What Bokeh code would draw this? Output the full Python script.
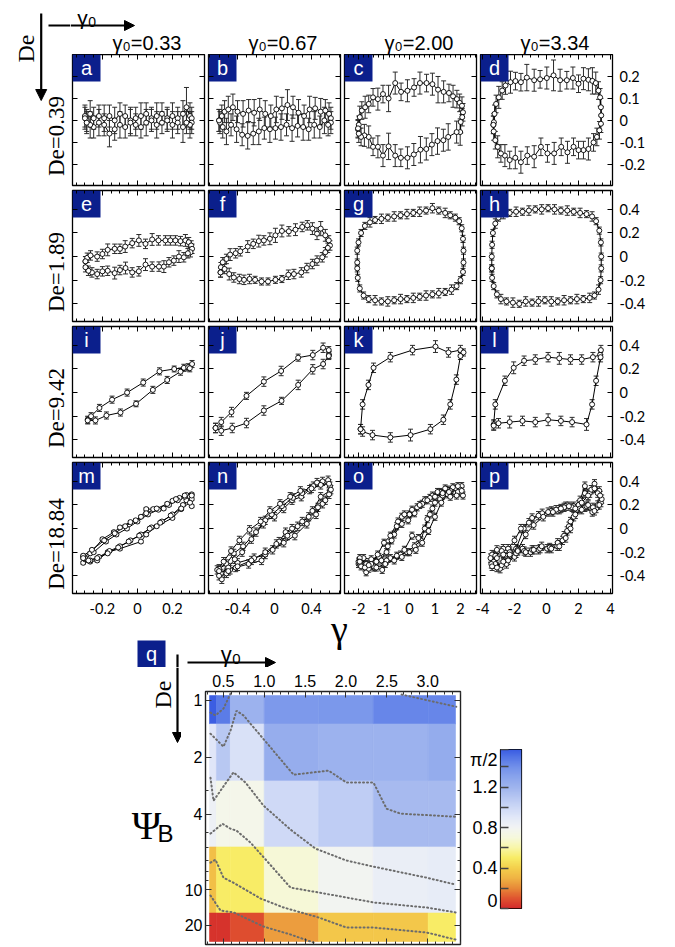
import numpy as np
from bokeh.plotting import figure
from bokeh.layouts import column, row
from bokeh.models import (Range1d, LinearAxis, LogAxis, FixedTicker, Label, Arrow,
                          NormalHead, LinearColorMapper, ColumnDataSource, Spacer)
from bokeh.embed import file_html
from bokeh.resources import INLINE
from bokeh.transform import linear_cmap

# ======================= DATA =======================
col_gamma0 = ["0.33", "0.67", "2.00", "3.34"]          # column titles: gamma_0 = ...
row_titles = ["De=0.39", "De=1.89", "De=9.42", "De=18.84"]
letters = list("abcdefghijklmnop")

x_ticks = [[-0.2, 0, 0.2], [-0.4, 0, 0.4], [-2, -1, 0, 1, 2], [-4, -2, 0, 2, 4]]
x_tick_labels = [["-0.2", "0", "0.2"], ["-0.4", "0", "0.4"],
                 ["-2", "-1", "0", "1", "2"], ["-4", "-2", "0", "2", "4"]]
y_ticks = [[-0.2, -0.1, 0, 0.1, 0.2], [-0.4, -0.2, 0, 0.2, 0.4],
           [-0.4, -0.2, 0, 0.2, 0.4], [-0.4, -0.2, 0, 0.2, 0.4]]
y_tick_labels = [["-0.2", "-0.1", "0", "0.1", "0.2"], ["-0.4", "-0.2", "0", "0.2", "0.4"],
                 ["-0.4", "-0.2", "0", "0.2", "0.4"], ["-0.4", "-0.2", "0", "0.2", "0.4"]]

# (strain, stress, error) read from the loops
PA = [(-0.30,0.02,0.05),(-0.29,0.00,0.05),(-0.27,0.03,0.06),(-0.25,0.01,0.05),(-0.22,0.02,0.05),(-0.19,0.01,0.06),
      (-0.16,0.02,0.05),(-0.13,0.00,0.06),(-0.10,0.03,0.05),(-0.07,0.02,0.05),(-0.04,0.00,0.06),(-0.01,0.01,0.05),
      (0.02,0.02,0.06),(0.05,0.03,0.05),(0.08,0.01,0.05),(0.11,0.02,0.06),(0.14,0.03,0.05),(0.17,0.01,0.05),
      (0.20,0.02,0.06),(0.23,0.01,0.05),(0.26,0.03,0.06),(0.28,0.06,0.09),(0.30,0.02,0.06),(0.31,0.01,0.05),
      (0.31,-0.01,0.05),(0.30,-0.02,0.06),(0.28,-0.01,0.05),(0.26,-0.03,0.07),(0.23,-0.01,0.05),(0.20,-0.02,0.06),
      (0.17,0.00,0.05),(0.14,-0.01,0.05),(0.11,-0.02,0.06),(0.08,0.00,0.05),(0.05,-0.01,0.06),(0.02,-0.03,0.05),
      (-0.01,-0.02,0.05),(-0.04,-0.01,0.06),(-0.07,-0.03,0.05),(-0.10,-0.02,0.06),(-0.13,-0.04,0.05),(-0.16,-0.06,0.06),
      (-0.19,-0.02,0.05),(-0.22,-0.01,0.06),(-0.25,-0.03,0.05),(-0.27,-0.02,0.06),(-0.29,-0.01,0.05),(-0.30,0.01,0.05)]
PB = [(-0.60,0.00,0.05),(-0.57,0.02,0.05),(-0.54,0.04,0.05),(-0.50,0.05,0.06),(-0.45,0.06,0.06),(-0.40,0.04,0.05),
      (-0.34,0.03,0.06),(-0.28,0.045,0.05),(-0.22,0.035,0.06),(-0.16,0.05,0.05),(-0.10,0.03,0.06),(-0.04,0.02,0.05),
      (0.02,0.05,0.06),(0.08,0.055,0.05),(0.14,0.07,0.07),(0.20,0.06,0.05),(0.26,0.035,0.06),(0.32,0.02,0.05),
      (0.38,0.05,0.06),(0.44,0.055,0.05),(0.50,0.04,0.06),(0.55,0.045,0.05),(0.59,0.03,0.05),(0.61,0.01,0.05),
      (0.61,-0.01,0.05),(0.58,-0.02,0.05),(0.54,0.00,0.06),(0.49,-0.03,0.05),(0.43,-0.02,0.06),(0.37,-0.04,0.05),
      (0.31,-0.03,0.06),(0.25,-0.025,0.05),(0.19,-0.035,0.06),(0.13,-0.02,0.05),(0.07,-0.03,0.06),(0.01,-0.035,0.05),
      (-0.05,-0.04,0.06),(-0.11,-0.035,0.05),(-0.17,-0.05,0.06),(-0.23,-0.06,0.05),(-0.29,-0.07,0.06),(-0.35,-0.065,0.05),
      (-0.41,-0.04,0.06),(-0.47,-0.02,0.05),(-0.52,-0.05,0.06),(-0.56,-0.03,0.05),(-0.59,-0.01,0.05),(-0.60,0.00,0.05)]
PC = [(-2.02,-0.04,0.04),(-1.99,-0.02,0.04),(-1.95,0.015,0.05),(-1.87,0.045,0.04),(-1.74,0.06,0.05),(-1.60,0.075,0.04),
      (-1.43,0.105,0.04),(-1.24,0.097,0.05),(-1.04,0.12,0.04),(-0.82,0.10,0.06),(-0.56,0.17,0.05),(-0.33,0.13,0.04),
      (-0.08,0.135,0.05),(0.18,0.15,0.04),(0.41,0.17,0.05),(0.67,0.17,0.04),(0.90,0.165,0.05),(1.12,0.14,0.06),
      (1.34,0.13,0.05),(1.55,0.125,0.04),(1.71,0.11,0.05),(1.86,0.097,0.04),(1.97,0.08,0.04),(2.06,0.067,0.04),
      (2.10,0.037,0.04),(2.07,0.015,0.04),(2.01,-0.007,0.05),(1.99,-0.053,0.06),(1.85,-0.053,0.05),(1.52,-0.075,0.06),
      (1.33,-0.09,0.05),(1.10,-0.094,0.06),(0.88,-0.11,0.05),(0.66,-0.13,0.05),(0.43,-0.133,0.06),(0.17,-0.155,0.05),
      (-0.08,-0.17,0.05),(-0.34,-0.17,0.04),(-0.56,-0.16,0.05),(-0.82,-0.118,0.06),(-1.04,-0.16,0.05),(-1.24,-0.12,0.05),
      (-1.43,-0.12,0.04),(-1.60,-0.075,0.05),(-1.77,-0.068,0.05),(-1.90,-0.075,0.04),(-1.99,-0.06,0.04),(-2.02,-0.036,0.04)]
PD = [(-3.32,-0.02,0.04),(-3.29,-0.008,0.04),(-3.25,0.03,0.04),(-3.15,0.075,0.04),(-2.98,0.105,0.05),(-2.77,0.136,0.04),
      (-2.56,0.159,0.04),(-2.25,0.174,0.05),(-1.94,0.179,0.04),(-1.60,0.174,0.04),(-1.23,0.195,0.06),(-0.77,0.183,0.05),
      (-0.40,0.187,0.04),(0.02,0.193,0.05),(0.44,0.205,0.07),(0.85,0.183,0.05),(1.27,0.183,0.04),(1.65,0.193,0.05),
      (2.00,0.167,0.04),(2.31,0.19,0.05),(2.62,0.185,0.05),(2.87,0.18,0.06),(3.08,0.17,0.05),(3.25,0.136,0.04),
      (3.35,0.105,0.04),(3.40,0.06,0.04),(3.42,0.023,0.04),(3.40,-0.015,0.04),(3.31,-0.045,0.04),(3.15,-0.075,0.04),
      (2.94,-0.10,0.04),(2.62,-0.13,0.05),(2.31,-0.135,0.04),(2.00,-0.135,0.04),(1.69,-0.12,0.04),(1.31,-0.145,0.05),
      (0.92,-0.12,0.04),(0.48,-0.15,0.05),(0.06,-0.15,0.04),(-0.35,-0.12,0.04),(-0.77,-0.165,0.05),(-1.20,-0.16,0.04),
      (-1.60,-0.19,0.05),(-1.95,-0.17,0.05),(-2.30,-0.18,0.04),(-2.60,-0.16,0.05),(-2.85,-0.15,0.04),(-3.05,-0.12,0.05),
      (-3.20,-0.09,0.04),(-3.30,-0.05,0.04),(-3.32,-0.02,0.04)]
PE = [(-0.297,-0.04,0.04),(-0.287,-0.01,0.04),(-0.268,0.01,0.04),(-0.23,0.0,0.04),(-0.20,0.022,0.04),(-0.17,0.057,0.05),
      (-0.13,0.066,0.04),(-0.10,0.066,0.04),(-0.07,0.085,0.05),(-0.03,0.114,0.04),(0.008,0.137,0.05),(0.046,0.108,0.04),
      (0.084,0.145,0.05),(0.12,0.137,0.04),(0.16,0.137,0.04),(0.188,0.137,0.04),(0.217,0.137,0.04),(0.246,0.131,0.04),
      (0.274,0.137,0.05),(0.293,0.122,0.04),(0.307,0.094,0.04),(0.312,0.066,0.04),(0.303,0.037,0.04),(0.288,0.028,0.04),
      (0.265,-0.006,0.04),(0.237,0.0,0.05),(0.208,-0.034,0.04),(0.18,-0.048,0.04),(0.151,-0.085,0.05),(0.123,-0.085,0.04),
      (0.084,-0.085,0.04),(0.046,-0.068,0.05),(0.008,-0.125,0.04),(-0.03,-0.134,0.04),(-0.068,-0.097,0.05),(-0.10,-0.114,0.04),
      (-0.13,-0.14,0.05),(-0.17,-0.12,0.04),(-0.20,-0.125,0.04),(-0.23,-0.148,0.04),(-0.26,-0.134,0.04),(-0.28,-0.12,0.04),
      (-0.297,-0.09,0.04),(-0.297,-0.04,0.04)]
PF = [(-0.584,-0.134,0.04),(-0.58,-0.09,0.04),(-0.56,-0.048,0.04),(-0.52,-0.02,0.04),(-0.48,0.017,0.05),(-0.42,0.028,0.04),
      (-0.37,0.045,0.04),(-0.29,0.085,0.05),(-0.23,0.108,0.04),(-0.17,0.131,0.05),(-0.115,0.137,0.04),(-0.05,0.151,0.05),
      (0.01,0.18,0.06),(0.08,0.217,0.05),(0.155,0.214,0.04),(0.227,0.228,0.05),(0.30,0.251,0.04),(0.355,0.265,0.04),
      (0.41,0.237,0.05),(0.46,0.194,0.05),(0.50,0.237,0.06),(0.55,0.18,0.05),(0.587,0.137,0.04),(0.60,0.094,0.04),
      (0.577,0.074,0.04),(0.55,0.037,0.04),(0.517,-0.006,0.04),(0.46,-0.034,0.04),(0.41,-0.063,0.04),(0.35,-0.097,0.04),
      (0.29,-0.134,0.04),(0.21,-0.148,0.04),(0.15,-0.154,0.04),(0.08,-0.19,0.03),(0.01,-0.197,0.03),(-0.07,-0.211,0.03),
      (-0.14,-0.211,0.03),(-0.21,-0.197,0.03),(-0.27,-0.19,0.04),(-0.33,-0.197,0.04),(-0.38,-0.19,0.04),(-0.44,-0.177,0.04),
      (-0.49,-0.148,0.05),(-0.54,-0.105,0.04),(-0.584,-0.134,0.04)]
PG = [(-2.05,-0.05,0.03),(-2.05,0.05,0.03),(-2.00,0.12,0.03),(-1.90,0.20,0.03),(-1.75,0.26,0.03),(-1.55,0.29,0.04),
      (-1.35,0.31,0.03),(-1.10,0.32,0.04),(-0.85,0.33,0.03),(-0.60,0.34,0.04),(-0.35,0.35,0.03),(-0.10,0.36,0.04),
      (0.15,0.37,0.03),(0.40,0.38,0.04),(0.65,0.39,0.03),(0.90,0.41,0.04),(1.15,0.39,0.03),(1.40,0.37,0.04),
      (1.60,0.35,0.03),(1.80,0.33,0.03),(1.95,0.30,0.03),(2.05,0.24,0.03),(2.10,0.15,0.03),(2.12,0.05,0.03),
      (2.12,-0.05,0.03),(2.10,-0.13,0.03),(2.00,-0.20,0.03),(1.85,-0.25,0.03),(1.65,-0.28,0.04),(1.40,-0.30,0.03),
      (1.15,-0.31,0.04),(0.90,-0.32,0.03),(0.65,-0.33,0.04),(0.40,-0.34,0.03),(0.15,-0.35,0.04),(-0.10,-0.36,0.03),
      (-0.35,-0.36,0.04),(-0.60,-0.37,0.03),(-0.85,-0.38,0.04),(-1.10,-0.38,0.03),(-1.35,-0.37,0.04),(-1.60,-0.36,0.03),
      (-1.80,-0.33,0.03),(-1.95,-0.27,0.03),(-2.03,-0.18,0.03),(-2.05,-0.10,0.03)]
PH = [(-3.42,-0.10,0.03),(-3.42,0.00,0.03),(-3.40,0.10,0.03),(-3.35,0.20,0.03),(-3.20,0.28,0.04),(-3.00,0.33,0.03),
      (-2.70,0.36,0.04),(-2.30,0.37,0.03),(-1.90,0.38,0.04),(-1.50,0.38,0.03),(-1.10,0.39,0.04),(-0.70,0.40,0.03),
      (-0.30,0.40,0.04),(0.10,0.41,0.03),(0.50,0.40,0.04),(0.90,0.39,0.03),(1.30,0.39,0.04),(1.70,0.38,0.03),
      (2.10,0.37,0.04),(2.50,0.36,0.03),(2.85,0.34,0.04),(3.10,0.30,0.03),(3.30,0.22,0.03),(3.40,0.12,0.03),
      (3.42,0.00,0.03),(3.42,-0.10,0.03),(3.38,-0.20,0.03),(3.25,-0.28,0.04),(3.00,-0.33,0.03),(2.70,-0.35,0.04),
      (2.30,-0.36,0.03),(1.90,-0.36,0.04),(1.50,-0.37,0.03),(1.10,-0.37,0.04),(0.70,-0.38,0.03),(0.30,-0.38,0.04),
      (-0.10,-0.37,0.03),(-0.50,-0.38,0.04),(-0.90,-0.39,0.03),(-1.30,-0.38,0.04),(-1.70,-0.40,0.03),(-2.10,-0.39,0.04),
      (-2.50,-0.38,0.03),(-2.85,-0.36,0.04),(-3.10,-0.32,0.03),(-3.30,-0.25,0.03),(-3.40,-0.18,0.03),(-3.42,-0.10,0.03)]
PI = [(-0.284,-0.23,0.03),(-0.265,-0.20,0.03),(-0.217,-0.13,0.03),(-0.145,-0.06,0.03),(-0.059,0.0,0.03),(0.033,0.085,0.03),
      (0.126,0.18,0.03),(0.21,0.20,0.025),(0.265,0.21,0.03),(0.29,0.215,0.03),(0.312,0.242,0.03),(0.299,0.206,0.03),
      (0.246,0.177,0.03),(0.17,0.107,0.03),(0.088,0.023,0.03),(-0.008,-0.095,0.025),(-0.097,-0.169,0.03),
      (-0.177,-0.194,0.03),(-0.24,-0.236,0.03),(-0.284,-0.236,0.03)]
PJ = [(-0.638,-0.30,0.04),(-0.576,-0.25,0.04),(-0.465,-0.165,0.04),(-0.303,-0.028,0.03),(-0.115,0.093,0.04),
      (0.072,0.183,0.04),(0.256,0.296,0.03),(0.414,0.318,0.04),(0.526,0.38,0.04),(0.587,0.36,0.03),(0.59,0.318,0.03),
      (0.587,0.31,0.03),(0.526,0.242,0.04),(0.414,0.197,0.04),(0.256,0.065,0.04),(0.076,-0.07,0.03),(-0.115,-0.152,0.04),
      (-0.303,-0.258,0.04),(-0.457,-0.30,0.04),(-0.576,-0.323,0.04),(-0.638,-0.30,0.04)]
PK = [(-1.92,-0.31,0.04),(-1.84,-0.10,0.04),(-1.61,0.065,0.04),(-1.41,0.21,0.04),(-0.75,0.30,0.04),(0.12,0.36,0.04),
      (1.02,0.39,0.05),(1.53,0.34,0.04),(2.00,0.36,0.04),(2.12,0.34,0.03),(2.00,0.31,0.03),(1.84,0.11,0.04),
      (1.60,-0.10,0.04),(1.33,-0.23,0.04),(0.82,-0.31,0.04),(0.04,-0.36,0.05),(-0.75,-0.38,0.04),(-1.45,-0.36,0.04),
      (-1.84,-0.33,0.04),(-1.92,-0.31,0.04)]
PL = [(-3.30,-0.27,0.04),(-3.20,-0.10,0.04),(-2.60,0.10,0.04),(-2.05,0.21,0.05),(-1.40,0.27,0.04),(-0.70,0.28,0.04),
      (0.10,0.30,0.04),(0.80,0.29,0.05),(1.50,0.28,0.04),(2.20,0.28,0.04),(2.90,0.30,0.04),(3.35,0.32,0.04),
      (3.40,0.36,0.04),(3.38,0.30,0.04),(3.10,0.10,0.04),(2.85,-0.10,0.04),(2.50,-0.27,0.05),(1.60,-0.25,0.04),
      (0.90,-0.24,0.04),(0.10,-0.23,0.05),(-0.70,-0.25,0.04),(-1.50,-0.24,0.04),(-2.30,-0.25,0.05),(-3.00,-0.26,0.04),
      (-3.30,-0.28,0.04)]
# De=18.84: several consecutive cycles (strain, stress); typical error bar per panel below
PM = [(-0.31,-0.24),(-0.27,-0.21),(-0.20,-0.09),(-0.135,-0.03),(-0.10,0.01),(-0.04,0.055),(0.02,0.10),(0.05,0.165),
      (0.09,0.165),(0.15,0.17),(0.20,0.235),(0.24,0.26),(0.28,0.285),(0.31,0.29),
      (0.31,0.19),(0.28,0.24),(0.25,0.165),(0.20,0.09),(0.11,0.02),(0.05,-0.05),(0.02,-0.11),(-0.10,-0.17),
      (-0.17,-0.20),(-0.23,-0.27),(-0.27,-0.28),(-0.31,-0.29),
      (-0.30,-0.26),(-0.25,-0.20),(-0.18,-0.11),(-0.12,-0.05),(-0.06,0.0),(0.0,0.06),(0.06,0.12),(0.12,0.16),
      (0.18,0.20),(0.23,0.24),(0.27,0.27),(0.30,0.27),
      (0.31,0.25),(0.26,0.20),(0.20,0.12),(0.14,0.06),(0.08,0.01),(0.02,-0.05),(-0.04,-0.10),(-0.10,-0.15),
      (-0.16,-0.19),(-0.22,-0.24),(-0.27,-0.27),(-0.30,-0.25),
      (-0.31,-0.23),(-0.26,-0.18),(-0.19,-0.10),(-0.13,-0.04),(-0.07,0.02),(-0.01,0.07),(0.05,0.13),(0.11,0.17),
      (0.17,0.21),(0.22,0.25),(0.27,0.28),(0.31,0.28),
      (0.30,0.22),(0.25,0.17),(0.19,0.11),(0.13,0.05),(0.07,0.0),(0.01,-0.06),(-0.05,-0.11),(-0.11,-0.16),
      (-0.17,-0.21),(-0.23,-0.25),(-0.28,-0.27),(-0.31,-0.25)]
PN = [(-0.60,-0.34),(-0.52,-0.30),(-0.44,-0.21),(-0.34,-0.15),(-0.20,-0.03),(-0.10,0.07),(0.00,0.10),(0.10,0.17),
      (0.19,0.24),(0.29,0.27),(0.38,0.33),(0.46,0.39),(0.58,0.41),
      (0.60,0.32),(0.50,0.27),(0.41,0.15),(0.30,0.06),(0.19,0.00),(0.12,-0.03),(0.05,-0.11),(-0.10,-0.22),
      (-0.22,-0.25),(-0.40,-0.29),(-0.48,-0.35),(-0.57,-0.43),
      (-0.58,-0.38),(-0.50,-0.33),(-0.43,-0.26),(-0.35,-0.20),(-0.25,-0.09),(-0.12,0.04),(-0.03,0.12),(0.08,0.19),
      (0.20,0.26),(0.30,0.30),(0.42,0.36),(0.52,0.40),(0.60,0.36),
      (0.59,0.29),(0.52,0.21),(0.45,0.12),(0.35,0.04),(0.22,-0.06),(0.10,-0.12),(-0.02,-0.18),(-0.14,-0.27),
      (-0.28,-0.30),(-0.42,-0.33),(-0.52,-0.38),(-0.60,-0.40),
      (-0.62,-0.35),(-0.55,-0.28),(-0.47,-0.19),(-0.38,-0.10),(-0.27,-0.01),(-0.15,0.06),(-0.05,0.15),(0.06,0.21),
      (0.17,0.27),(0.28,0.32),(0.40,0.34),(0.50,0.37),(0.59,0.38),
      (0.61,0.33),(0.55,0.24),(0.47,0.18),(0.37,0.10),(0.25,0.02),(0.14,-0.06),(0.02,-0.13),(-0.10,-0.20),
      (-0.25,-0.27),(-0.40,-0.32),(-0.50,-0.36),(-0.60,-0.36)]
PO = [(-2.0,-0.30),(-1.8,-0.25),(-1.5,-0.26),(-1.2,-0.24),(-0.9,-0.20),(-0.7,-0.10),(-0.5,0.02),(-0.3,0.10),
      (0.0,0.12),(0.3,0.18),(0.6,0.24),(0.9,0.28),(1.2,0.31),(1.5,0.33),(1.8,0.34),(2.05,0.36),
      (2.05,0.30),(1.8,0.30),(1.5,0.29),(1.2,0.25),(0.9,0.17),(0.7,0.08),(0.45,-0.10),(0.2,-0.15),(-0.1,-0.20),
      (-0.35,-0.22),(-0.75,-0.25),(-1.07,-0.35),(-1.4,-0.33),(-1.7,-0.37),(-1.95,-0.30),
      (-1.95,-0.25),(-1.7,-0.30),(-1.4,-0.32),(-1.1,-0.27),(-0.85,-0.15),(-0.6,-0.05),(-0.3,0.04),(-0.05,0.07),
      (0.2,0.13),(0.5,0.21),(0.8,0.26),(1.1,0.31),(1.4,0.34),(1.7,0.35),(2.0,0.33),
      (2.1,0.28),(1.9,0.31),(1.6,0.27),(1.3,0.28),(1.0,0.22),(0.8,0.12),(0.6,0.0),(0.35,-0.08),(0.1,-0.06),
      (-0.2,-0.18),(-0.5,-0.23),(-0.9,-0.27),(-1.3,-0.28),(-1.6,-0.34),(-1.9,-0.32),
      (-2.0,-0.28),(-1.75,-0.33),(-1.5,-0.30),(-1.25,-0.22),(-1.0,-0.12),(-0.75,-0.06),(-0.45,0.06),(-0.2,0.12),
      (0.1,0.16),(0.4,0.20),(0.7,0.24),(1.0,0.27),(1.3,0.30),(1.6,0.32),(1.9,0.36),
      (2.05,0.32),(1.85,0.28),(1.55,0.31),(1.25,0.22),(1.0,0.10),(0.75,-0.02),(0.5,-0.12),(0.25,-0.18),(0.0,-0.20),
      (-0.3,-0.24),(-0.6,-0.27),(-0.95,-0.30),(-1.3,-0.33),(-1.6,-0.31),(-1.95,-0.28)]
PP = [(-3.4,-0.22),(-3.1,-0.18),(-2.7,-0.17),(-2.3,-0.19),(-1.9,-0.17),(-1.42,0.0),(-0.9,0.09),(-0.27,0.13),
      (0.3,0.15),(0.8,0.16),(1.2,0.19),(1.7,0.19),(2.1,0.24),(2.4,0.36),(2.7,0.30),(3.0,0.38),(3.3,0.32),
      (3.4,0.22),(3.1,0.17),(2.86,0.14),(2.4,0.18),(1.9,0.16),(1.5,0.06),(1.29,-0.02),(1.0,-0.10),(0.67,-0.15),
      (0.04,-0.17),(-0.5,-0.18),(-1.0,-0.20),(-1.5,-0.17),(-2.0,-0.24),(-2.5,-0.30),(-2.9,-0.34),(-3.3,-0.28),
      (-3.5,-0.25),(-3.2,-0.23),(-2.8,-0.19),(-2.4,-0.17),(-2.0,-0.10),(-1.6,0.0),(-1.1,0.05),(-0.5,0.11),
      (0.1,0.14),(0.6,0.16),(1.1,0.18),(1.6,0.18),(2.0,0.20),(2.4,0.30),(2.8,0.33),(3.2,0.30),
      (3.45,0.25),(3.2,0.20),(2.9,0.18),(2.5,0.19),(2.1,0.17),(1.7,0.10),(1.4,0.02),(1.1,-0.06),(0.7,-0.12),
      (0.2,-0.16),(-0.4,-0.17),(-0.9,-0.18),(-1.4,-0.19),(-1.9,-0.21),(-2.4,-0.27),(-2.8,-0.31),(-3.2,-0.30),
      (-3.45,-0.30),(-3.1,-0.25),(-2.7,-0.22),(-2.3,-0.20),(-1.8,-0.18),(-1.3,-0.05),(-0.8,0.03),(-0.2,0.10),
      (0.4,0.14),(0.9,0.17),(1.4,0.19),(1.8,0.17),(2.2,0.22),(2.6,0.28),(3.0,0.34),(3.35,0.28),
      (3.3,0.20),(3.0,0.15),(2.6,0.20),(2.2,0.16),(1.8,0.12),(1.5,0.0),(1.2,-0.08),(0.8,-0.15),(0.3,-0.17),
      (-0.3,-0.15),(-0.8,-0.18),(-1.3,-0.20),(-1.8,-0.19),(-2.3,-0.22),(-2.7,-0.28),(-3.1,-0.33),(-3.4,-0.32)]
row4_err = [0.012, 0.035, 0.03, 0.035]

PANELS = [[PA, PB, PC, PD], [PE, PF, PG, PH], [PI, PJ, PK, PL], [PM, PN, PO, PP]]

# heat map (q): Psi_B over gamma0 x De
hm_gamma0 = [0.33, 0.5, 0.67, 1.33, 2.0, 2.67, 3.34]
hm_de = [0.942, 1.884, 3.768, 9.42, 18.84]
hm_psi = [
    [1.56, 1.47, 1.21, 1.35, 1.36, 1.43, 1.43],
    [0.91, 1.09, 0.94, 1.24, 1.21, 1.21, 1.25],
    [0.83, 0.76, 0.76, 0.99, 1.06, 1.16, 1.16],
    [0.34, 0.50, 0.50, 0.69, 0.79, 0.85, 0.87],
    [0.02, 0.02, 0.08, 0.25, 0.37, 0.37, 0.50],
]
hm_x_ticks = [0.5, 1.0, 1.5, 2.0, 2.5, 3.0]
hm_x_labels = ["0.5", "1.0", "1.5", "2.0", "2.5", "3.0"]
hm_y_ticks = [1, 2, 4, 10, 15.5]
hm_y_labels = ["1", "2", "4", "10", "20"]
# dotted contour lines (gamma0, De)
contours_x = [
    [2.68, 3.35],
    [0.342, 0.403, 0.501, 0.587],
    [0.342, 0.501, 0.587, 0.660, 0.746, 1.028, 1.358, 1.787, 2.007, 2.337, 2.497, 2.668, 3.341],
    [0.342, 0.379, 0.526, 0.624, 0.771, 0.991, 1.321, 1.627, 2.007, 2.337, 2.986, 3.341],
    [0.342, 0.489, 0.587, 0.660, 0.832, 1.028, 1.321, 1.664, 2.007, 2.337, 2.986, 3.341],
    [0.342, 0.403, 0.501, 0.624, 0.954, 1.236, 1.664, 2.007, 2.337, 2.986, 3.341],
    [0.342, 0.465, 0.624, 0.991, 1.321, 1.603],
]
contours_de = [
    [0.93, 1.08],
    [1.159, 1.20, 1.104, 0.919],
    [1.499, 1.755, 1.444, 1.133, 1.20, 1.672, 2.47, 2.35, 2.72, 2.72, 3.74, 3.97, 4.12],
    [2.56, 3.39, 2.75, 2.40, 2.72, 3.60, 4.82, 6.08, 7.03, 7.57, 8.66, 9.42],
    [5.06, 4.49, 4.77, 4.88, 5.65, 7.03, 9.77, 10.37, 11.03, 11.71, 12.45, 13.22],
    [7.21, 6.95, 8.66, 9.21, 11.16, 12.45, 14.06, 15.90, 15.90, 16.88, 18.41],
    [10.76, 12.92, 13.22, 15.70, 17.30, 19.09],
]
cb_ticks = [0, 0.2, 0.4, 0.6, 0.8, 1.0, 1.2, 1.4, 1.5707963267948966]
cb_labels = ["0", "", "0.4", "", "0.8", "", "1.2", "", "π/2"]
cmap_values = [0.0, 0.1, 0.2, 0.3, 0.4, 0.5, 0.6, 0.7, 0.8, 0.9, 1.0, 1.1, 1.2, 1.3, 1.4, 1.5, 1.5708]
cmap_colors = ["#d42b2b", "#e05530", "#e88a38", "#f0b444", "#f4d04c", "#f8ec66", "#f8f6a8", "#f6f8dc",
               "#f2f4f4", "#e2e8f8", "#cdd8f6", "#b6c6f2", "#9fb4ee", "#8aa4ec", "#7290ea", "#5274e6", "#3a5ce2"]

# ======================= STYLE / LAYOUT =======================
NAVY = "#0b1f8c"
FW, FH = 132, 131
X_RANGES = [(-0.371, 0.383), (-0.714, 0.714), (-2.55, 2.63), (-4.125, 4.125)]
Y_RANGES = [(-0.296, 0.300), (-0.55, 0.56), (-0.55, 0.56), (-0.55, 0.56)]
X_MINOR = [np.round(np.arange(-0.35, 0.3501, 0.05), 3).tolist(),
           np.round(np.arange(-0.7, 0.7001, 0.1), 3).tolist(),
           np.round(np.arange(-2.4, 2.6001, 0.2), 3).tolist(),
           np.round(np.arange(-4.0, 4.0001, 0.5), 3).tolist()]
LB = [2, 2, 2, 2]
RB = [2, 2, 2, 40]
TB = [0, 2, 2, 2]
BB = [3, 3, 3, 3]
TICK_FONT = "Lato"
SANS = "Liberation Sans"
LEFT_W = 70            # left text strip
HEADER_H = 54          # header strip above the panels
# approximate advance widths (em) of Liberation Sans, used to lay out gamma + subscript + rest
ADV = {"γ": 0.50, "0": 0.556, "1": 0.556, "2": 0.556, "3": 0.556, "4": 0.556, "6": 0.556, "7": 0.556,
       ".": 0.278, "=": 0.584}


def text_w(s, size):
    return sum(ADV.get(ch, 0.556) for ch in s) * size


def hex2rgb(h):
    return [int(h[i:i + 2], 16) for i in (1, 3, 5)]


_rgb = np.array([hex2rgb(c) for c in cmap_colors], dtype=float)
PALETTE = []
for v in np.linspace(0, np.pi / 2, 256):
    r_ = np.interp(v, cmap_values, _rgb[:, 0])
    g_ = np.interp(v, cmap_values, _rgb[:, 1])
    b_ = np.interp(v, cmap_values, _rgb[:, 2])
    PALETTE.append("#%02x%02x%02x" % (int(round(r_)), int(round(g_)), int(round(b_))))


def canvas(x0, y0, w, h):
    """A blank figure whose data coordinates are page pixels (y downwards)."""
    p = figure(frame_width=w, frame_height=h, x_range=Range1d(x0, x0 + w), y_range=Range1d(y0 + h, y0),
               min_border=0, min_border_left=0, min_border_right=0, min_border_top=0, min_border_bottom=0,
               output_backend="svg", toolbar_location=None, tools="", title=None)
    p.xaxis.visible = False
    p.yaxis.visible = False
    p.grid.visible = False
    p.outline_line_color = None
    return p


def label(p, x, y, text, font, size, align="center", baseline="middle", angle=0.0, color="black"):
    p.add_layout(Label(x=x, y=y, text=text, text_font=font, text_font_size=size, text_align=align,
                       text_baseline=baseline, angle=angle, text_color=color))


def gamma0_text(p, cx, base, size, sub_size, rest=""):
    """'γ' + subscript '0' + rest, centred on cx, alphabetic baseline at base."""
    wg = ADV["γ"] * size
    w0 = ADV["0"] * sub_size
    wr = text_w(rest, size)
    x = cx - (wg + w0 + wr) / 2
    label(p, x, base, "γ", SANS, "%gpx" % size, align="left", baseline="alphabetic")
    label(p, x + wg + 0.5, base + 0.2 * size, "0", SANS, "%gpx" % sub_size, align="left", baseline="alphabetic")
    if rest:
        label(p, x + wg + w0 + 1, base, rest, SANS, "%gpx" % size, align="left", baseline="alphabetic")


def arrow(p, x0, y0, x1, y1, head=11):
    p.add_layout(Arrow(x_start=x0, y_start=y0, x_end=x1, y_end=y1, line_width=2.2, line_color="black",
                       end=NormalHead(size=head, fill_color="black", line_color="black", line_width=1)))


def style_axis(ax, ticks, minor, labels=None, font=TICK_FONT, size="14.5px", standoff=7,
               tick_in=5, minor_in=3, color="black"):
    ax.ticker = FixedTicker(ticks=list(ticks), minor_ticks=list(minor))
    ax.axis_line_color = None
    ax.major_tick_in = tick_in
    ax.major_tick_out = 0
    ax.minor_tick_in = minor_in
    ax.minor_tick_out = 0
    ax.major_tick_line_color = color
    ax.minor_tick_line_color = color
    ax.major_tick_line_width = 1
    ax.minor_tick_line_width = 1
    if labels is None:
        ax.major_label_text_font_size = "0px"
        ax.major_label_standoff = 0
        ax.major_label_text_color = None
    else:
        ax.major_label_overrides = {t: l for t, l in zip(ticks, labels)}
        ax.major_label_text_font = font
        ax.major_label_text_font_size = size
        ax.major_label_standoff = standoff
        ax.major_label_text_color = "black"


def make_panel(r, c):
    xr, yr = X_RANGES[c], Y_RANGES[r]
    p = figure(frame_width=FW, frame_height=FH, x_range=Range1d(*xr), y_range=Range1d(*yr),
               min_border_left=LB[c], min_border_right=RB[c], min_border_top=TB[r], min_border_bottom=BB[r],
               output_backend="svg", toolbar_location=None, tools="", title=None)
    p.grid.visible = False
    p.outline_line_color = "black"
    p.outline_line_width = 1.3
    p.add_layout(LinearAxis(), "above")
    p.add_layout(LinearAxis(), "right")
    style_axis(p.below[0], x_ticks[c], X_MINOR[c], None)
    style_axis(p.above[0], x_ticks[c], X_MINOR[c], None)
    style_axis(p.left[0], y_ticks[r], [], None)
    style_axis(p.right[0], y_ticks[r], [], y_tick_labels[r] if c == 3 else None, standoff=7)

    pts = PANELS[r][c]
    xs = [q[0] for q in pts]
    ys = [q[1] for q in pts]
    es = [q[2] if len(q) > 2 else row4_err[c] for q in pts]
    lo = [y - e for y, e in zip(ys, es)]
    hi = [y + e for y, e in zip(ys, es)]
    p.segment(x0=xs, y0=lo, x1=xs, y1=hi, line_color="#2b2b2b", line_width=1)
    p.scatter(xs, hi, marker="dash", size=5, line_color="#2b2b2b", line_width=1)
    p.scatter(xs, lo, marker="dash", size=5, line_color="#2b2b2b", line_width=1)
    p.line(xs, ys, line_color="black", line_width=1)
    p.scatter(xs, ys, marker="circle", size=5, fill_color="white", line_color="black", line_width=0.9)

    # letter box in the frame's top-left corner (28 x 27 px)
    sx = (xr[1] - xr[0]) / FW
    sy = (yr[1] - yr[0]) / FH
    p.quad(left=[xr[0]], right=[xr[0] + 28 * sx], top=[yr[1]], bottom=[yr[1] - 27 * sy],
           fill_color=NAVY, line_color=None)
    label(p, xr[0] + 14 * sx, yr[1] - 13 * sy, letters[4 * r + c], SANS, "20px", color="white")
    return p


# ---------- top block: left strip + (header + 4x4 panels) ----------
panel_rows = [row(*[make_panel(r, c) for c in range(4)]) for r in range(4)]
GRID_W = sum(LB[c] + FW + RB[c] for c in range(4))
GRID_H = HEADER_H + sum(TB[r] + FH + BB[r] for r in range(4))

header = canvas(LEFT_W, 0, GRID_W, HEADER_H)
for c in range(4):
    gamma0_text(header, 72 + 136 * c + 66 + 8, 42, 20, 13, "=" + col_gamma0[c])
gamma0_text(header, 86, 17, 21, 14)
arrow(header, LEFT_W, 25, 134, 25, head=10)

left = canvas(0, 0, LEFT_W, GRID_H)
left.segment(x0=[48], y0=[25], x1=[LEFT_W], y1=[25], line_color="black", line_width=2.2)
arrow(left, 40.7, 13, 40.7, 100)
label(left, 25, 48, "De", "Liberation Serif", "24px", angle=np.pi / 2)
for r in range(4):
    label(left, 56, 54 + 136 * r + 65.5 + 16, row_titles[r], "Liberation Serif", "23px", angle=np.pi / 2)

top_block = row(left, column(header, *panel_rows))

# ---------- middle strip (strain tick labels, gamma, q header) ----------
MID_Y0 = GRID_H
BOT_Y0 = 667
MID_W = LEFT_W + GRID_W
mid = canvas(0, MID_Y0, MID_W, BOT_Y0 - MID_Y0)
xr_extra = {}
for c in range(4):
    x0, x1 = X_RANGES[c]
    s = (x1 - x0) / FW
    fl = 72 + 136 * c
    xr_extra["col%d" % c] = Range1d(x0 - fl * s, x0 + (MID_W - fl) * s)
mid.extra_x_ranges = xr_extra
for c in range(4):
    ax = LinearAxis(x_range_name="col%d" % c, fixed_location=MID_Y0)
    mid.add_layout(ax, "below")
    style_axis(ax, x_ticks[c], [], x_tick_labels[c], standoff=6, tick_in=0, minor_in=0)
    ax.major_tick_line_color = None
    ax.minor_tick_line_color = None
label(mid, 339, 628, "γ", "Liberation Serif", "38px", baseline="alphabetic")
mid.quad(left=[137], right=[165], top=[640], bottom=[667], fill_color=NAVY, line_color=None)
label(mid, 151, 653, "q", SANS, "20px", color="white")
gamma0_text(mid, 230, 654, 22, 15)
arrow(mid, 187, 662, 275, 662, head=10)
mid.segment(x0=[177], y0=[654], x1=[177], y1=[BOT_Y0], line_color="black", line_width=2.2)

# ---------- bottom block: left strip + heat map + colour bar ----------
HM_LEFT_W = 181
hm_top, hm_h = 691, 253
lb = canvas(0, BOT_Y0, HM_LEFT_W, 946 - BOT_Y0)
arrow(lb, 177, BOT_Y0, 177, 742, head=10)
label(lb, 162, 694, "De", "Liberation Serif", "24px", angle=np.pi / 2)
label(lb, 146, 825, "Ψ", "Liberation Serif", "40px", baseline="alphabetic")
label(lb, 157, 833, "B", SANS, "24px", align="left", baseline="alphabetic")

hm = figure(frame_width=255, frame_height=hm_h, x_range=Range1d(0.281, 3.401), y_range=Range1d(19.54, 0.8965),
            y_axis_type="log", x_axis_location="above",
            min_border_left=202 - HM_LEFT_W, min_border_right=3, min_border_top=hm_top - BOT_Y0,
            min_border_bottom=2, output_backend="svg", toolbar_location=None, tools="", title=None)
hm.grid.visible = False
hm.outline_line_color = "#222222"
hm.outline_line_width = 1.4
hm.add_layout(LinearAxis(), "below")
hm.add_layout(LogAxis(), "right")
hm_minor_x = np.round(np.arange(0.3, 3.4001, 0.1), 3).tolist()
hm_minor_y = [3, 5, 6, 7, 8, 9]
style_axis(hm.above[0], hm_x_ticks, hm_minor_x, hm_x_labels, font=SANS, size="16px",
           standoff=5, tick_in=6, minor_in=3, color="#333333")
style_axis(hm.below[0], hm_x_ticks, hm_minor_x, None, tick_in=6, minor_in=3, color="#333333")
style_axis(hm.left[0], hm_y_ticks, hm_minor_y, hm_y_labels, font=SANS, size="16px",
           standoff=3, tick_in=6, minor_in=3, color="#333333")
style_axis(hm.right[0], hm_y_ticks, hm_minor_y, None, tick_in=6, minor_in=3, color="#333333")

g = np.array(hm_gamma0)
d = np.array(hm_de)
gx_edges = np.concatenate([[g[0]], (g[:-1] + g[1:]) / 2, [g[-1]]])
dy_edges = np.concatenate([[d[0]], np.sqrt(d[:-1] * d[1:]), [d[-1]]])
L, R, T, B, V = [], [], [], [], []
for i in range(len(hm_de)):
    for j in range(len(hm_gamma0)):
        L.append(gx_edges[j]); R.append(gx_edges[j + 1])
        T.append(dy_edges[i]); B.append(dy_edges[i + 1])
        V.append(hm_psi[i][j])
src = ColumnDataSource(dict(left=L, right=R, top=T, bottom=B, psi=V))
cm = linear_cmap("psi", PALETTE, 0, np.pi / 2)
hm.quad(left="left", right="right", top="top", bottom="bottom", source=src,
        fill_color=cm, line_color=cm, line_width=0.6)
hm.multi_line(xs=contours_x, ys=contours_de, line_color="#6c6c6c", line_width=2.0,
              line_dash="1 3", line_cap="round")

mapper = LinearColorMapper(palette=PALETTE, low=0, high=np.pi / 2)
cb = figure(frame_width=21, frame_height=159, x_range=Range1d(0, 1), y_range=Range1d(0, np.pi / 2),
            min_border_left=497 - (202 + 255 + 3), min_border_right=2, min_border_top=0, min_border_bottom=2,
            output_backend="svg", toolbar_location=None, tools="", title=None)
ramp = np.linspace(0, np.pi / 2, 256).reshape(256, 1)
cb.image(image=[ramp], x=0, y=0, dw=1, dh=np.pi / 2, color_mapper=mapper)
cb.xaxis.visible = False
cb.grid.visible = False
cb.outline_line_color = "black"
cb.outline_line_width = 1.2
style_axis(cb.left[0], cb_ticks, [], cb_labels, font=SANS, size="18px", standoff=3,
           tick_in=8, color="#444444")
cb.left[0].major_tick_line_width = 1.5

bottom_block = row(column(lb), hm, column(Spacer(width=1, height=749 - BOT_Y0), cb))

layout = column(top_block, mid, bottom_block)
open("out.html", "w").write(file_html(layout, INLINE))
